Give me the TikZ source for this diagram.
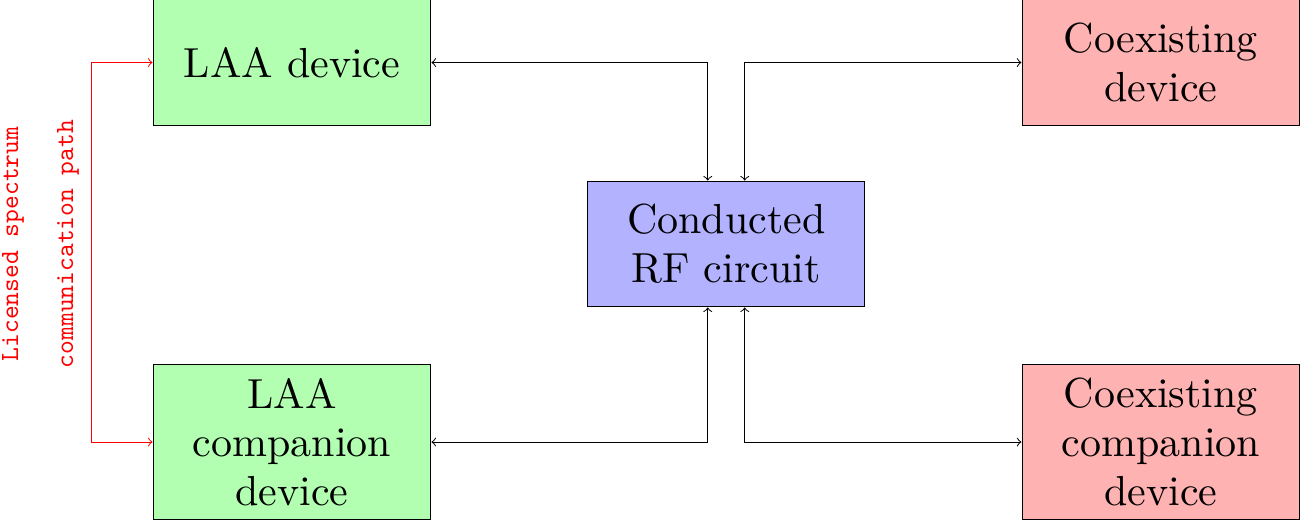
\documentclass[tikz,border=0pt]{standalone}
\usepackage{xcolor}
\usepackage{tikz}

\tikzset{
    block/.style={draw, align=center, transform shape, scale=1.68,
        minimum width=2.32cm, minimum height=1.048cm,
        inner sep=3.3pt, font=\fontsize{10}{11.6}\selectfont},
    laabox/.style={block, fill=green!30},
    coexbox/.style={block, fill=red!30},
    rfbox/.style={block, fill=blue!30},
    pathlabel/.style={red, align=center, rotate=90,
        font=\ttfamily\fontsize{10.5}{22}\selectfont}
}

\begin{document}
\begin{tikzpicture}
    \useasboundingbox (0,0) rectangle (18.29,-7.325);

    % Devices
    \node[laabox] (laa) at (4.105,-0.879) {LAA device};
    \node[laabox] (laacomp) at (4.105,-6.214) {LAA\\companion\\device};
    \node[coexbox] (coex) at (16.32,-0.879) {Coexisting\\device};
    \node[coexbox] (coexcomp) at (16.32,-6.214) {Coexisting\\companion\\device};

    % Conducted RF circuit
    \node[rfbox] (rf) at (10.21,-3.43) {Conducted\\RF circuit};

    % Arrows
    \draw[<->] (laa.east) -| ([xshift=-0.26cm]rf.north);
    \draw[<->] (coex.west) -| ([xshift=0.26cm]rf.north);
    \draw[<->] (laacomp.east) -| ([xshift=-0.26cm]rf.south);
    \draw[<->] (coexcomp.west) -| ([xshift=0.26cm]rf.south);

    % Licensed spectrum path
    \draw[red, <->] (laa.west) -- ++(-0.86,0) |- (laacomp.west);
    \node[pathlabel] (lic) at (0.57,-3.43) {Licensed spectrum\\communication path};
\end{tikzpicture}
\end{document}
